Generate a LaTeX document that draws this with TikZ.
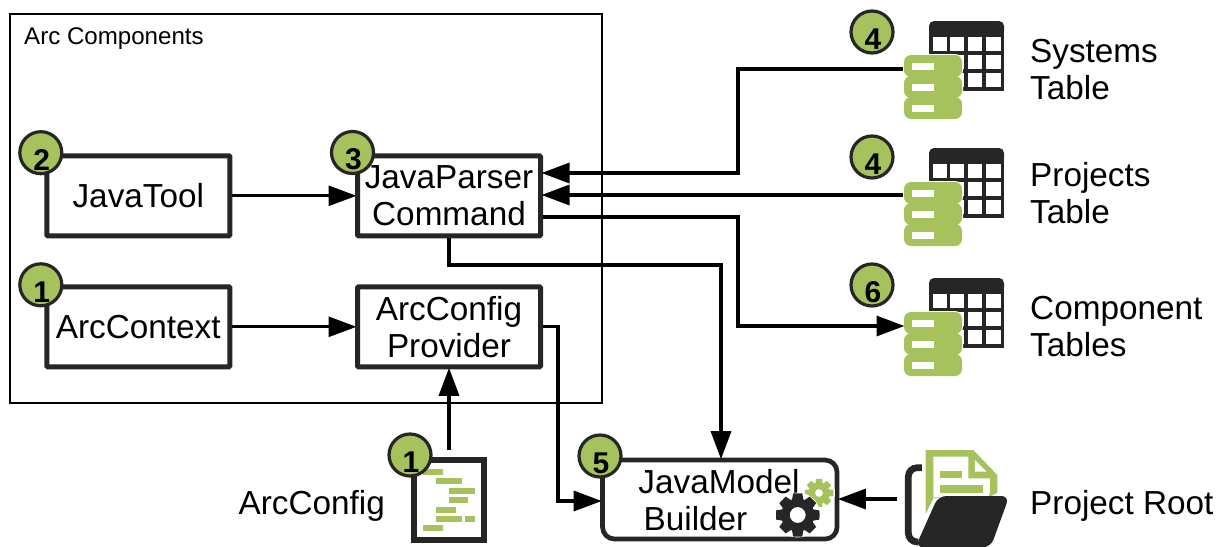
\documentclass[tikz,border=0pt]{standalone}
\usepackage{fontspec}
\setmainfont{Liberation Sans}
\usetikzlibrary{arrows.meta}
\definecolor{leaf}{HTML}{A5C25C}
\definecolor{ink}{HTML}{262626}
\newcommand{\pxfont}[1]{\fontsize{#1}{37}\selectfont}
\tikzset{
  x=1pt,y=-1pt,
  box/.style={draw=ink,line width=5pt,rounded corners=1pt,minimum width=183pt,minimum height=80pt,inner sep=0pt,font=\pxfont{33.3},align=center,anchor=north west,text=black},
  label/.style={font=\pxfont{33.3},align=left,inner sep=0pt,text=black},
  badge/.style={circle,draw=ink,fill=leaf,line width=3.2pt,minimum size=42pt,inner sep=0pt},
  badgenum/.style={font=\pxfont{30}\bfseries,inner sep=0pt,text=black},
  link/.style={draw=black,line width=3.3pt},
  arrowlink/.style={link,shorten >=-1.5pt,-{Triangle[length=28pt,width=20pt]}},
  thinlink/.style={arrowlink,line width=2.7pt},
  iconspot/.style={inner sep=0pt,minimum width=58pt,minimum height=63pt},
}
\newcommand{\tableicon}[2]{%
\begin{scope}[shift={(#1,#2)}]
  \fill[ink,rounded corners=5pt] (0,0) rectangle (75,14);
  \fill[ink] (0,8) rectangle (75,16);
  \draw[ink,line width=3.5pt] (2,16) -- (2,70) (19.5,16) -- (19.5,70) (37,16) -- (37,70) (55,16) -- (55,70) (73.5,16) -- (73.5,70)
    (2,32) -- (73.5,32) (2,50) -- (73.5,50) (2,68) -- (73.5,68);
\end{scope}}
\newcommand{\dbicon}[2]{%
\begin{scope}[shift={(#1,#2)}]
  \foreach \t in {42,21,0}{
    \fill[white,rounded corners=8pt] (-1,\t-1) rectangle (59,\t+23);
  }
  \foreach \t in {42,21,0}{
    \fill[leaf,rounded corners=7pt] (0,\t) rectangle (58,\t+22);
  }
  \foreach \t in {8,29,50}{
    \fill[white] (8,\t) rectangle (30,\t+6.5);
  }
\end{scope}}
\newcommand{\gearicon}[7]{%
\fill[#7,even odd rule,shift={(#1,#2)}]
  (0:#3)
  foreach \k in {1,...,#6}{
    -- ({(\k-1)*360/#6+12}:#3) -- ({(\k-1)*360/#6+20}:#4) -- ({\k*360/#6-20}:#4) -- ({\k*360/#6-12}:#3)
  } -- cycle
  (#5,0) arc[start angle=0,end angle=360,radius=#5];}
\begin{document}
\begin{tikzpicture}
\useasboundingbox (0,0) rectangle (1220,546);
\fill[white] (0,0) rectangle (1220,546);

% outer frame
\node[draw=black,line width=2pt,minimum width=592.3pt,minimum height=388.7pt,inner sep=0pt,anchor=north west] (frame) at (9,13) {};
\node[font=\pxfont{24.1},inner sep=0pt,anchor=west,text=black] (frametitle) at (24,38.5) {Arc Components};

% boxes
\node[box] (javatool) at (44.3,153.3) {JavaTool};
\node[box] (jparser) at (355,153.3) {\rule{0pt}{2pt}JavaParser\\[0pt]Command};
\node[box] (arccontext) at (44.3,284.3) {ArcContext};
\node[box] (provider) at (355,284.3) {ArcConfig\\[0pt]Provider};
\node[draw=ink,line width=4.7pt,rounded corners=12pt,minimum width=234.5pt,minimum height=79pt,inner sep=0pt,anchor=north west] (builder) at (600.2,457.7) {};
\node[label,anchor=base] (builderA) at (719,493.7) {JavaModel};
\node[label,anchor=base] (builderB) at (695.5,530) {Builder};

% icon anchor nodes
\node[iconspot,anchor=north west] (systemsdb) at (903,55) {};
\node[iconspot,anchor=north west] (projectsdb) at (903,182) {};
\node[iconspot,anchor=north west] (componentdb) at (903,312) {};
\node[inner sep=0pt,minimum width=76pt,minimum height=86pt,anchor=north west] (configdoc) at (411,457) {};
\node[inner sep=0pt,minimum width=104pt,minimum height=97pt,anchor=north west] (folder) at (904,449) {};

% icons
\tableicon{929}{21}\dbicon{904}{55}
\tableicon{929}{148}\dbicon{904}{182}
\tableicon{929}{278}\dbicon{904}{312}

% config document
\begin{scope}[shift={(411,457)}]
  \draw[ink,line width=6pt] (3,3) rectangle (73,83);
  \fill[leaf] (12,12) rectangle (32,18);
  \fill[leaf] (25,21) rectangle (51,27);
  \fill[leaf] (38,31) rectangle (64,37);
  \fill[leaf] (38,40) rectangle (57,46);
  \fill[leaf] (25,50) rectangle (45,56);
  \fill[leaf] (25,59) rectangle (51,65);
  \fill[leaf] (54,59) rectangle (64,65);
  \fill[leaf] (12,68) rectangle (32,74);
\end{scope}

% folder
\begin{scope}[shift={(770,440)},x=0.3333pt,y=-0.3333pt]
  \fill[leaf] (467,30) -- (610,30) -- (682,105) -- (682,158) -- (660,170) -- (490,175) -- (467,222) -- cycle;
  \fill[white] (490,50) -- (595,50) -- (595,115) -- (660,115) -- (660,158) -- (655,172) -- (492,172) -- (490,175) -- cycle;
  \fill[white] (615,60) -- (650,95) -- (615,95) -- cycle;
  \fill[leaf] (510,93) rectangle (575,115);
  \fill[leaf] (510,135) rectangle (640,158);
  \draw[ink,line width=6.7pt,rounded corners=9pt] (456,83) -- (415,83) -- (415,306) -- (445,306);
  \fill[ink,rounded corners=8pt] (505,168) -- (718,168) -- (662,322) -- (436,322) -- cycle;
\end{scope}

% gears
\fill[white] (819,493) circle (16);
\gearicon{819}{493}{14.5}{10.5}{4}{8}{leaf}
\fill[white] (797.7,515) circle (22.5);
\gearicon{797.7}{515}{22}{16.5}{8}{8}{ink}

% connectors
\coordinate (sysin) at (jparser.east |- 0,173);
\coordinate (projin) at (jparser.east |- 0,195);
\coordinate (compout) at (jparser.east |- 0,217);
\draw[thinlink] (javatool.east) -- (jparser.west);
\draw[thinlink] (arccontext.east) -- (provider.west);
\draw[arrowlink] (systemsdb.west |- 0,69) -- (738,69) -- (738,173) -- (sysin);
\draw[arrowlink] (projectsdb.west |- 0,195) -- (projin);
\draw[arrowlink] (compout) -- (738,217) -- (738,326) -- (componentdb.west |- 0,326);
\draw[arrowlink] (jparser.south) -- (jparser.south |- 0,265) -- (721,265) -- (721,457.7);
\draw[arrowlink] (provider.east) -- (558,326.8) -- (558,501) -- (builder.west |- 0,501);
\draw[arrowlink] (provider.south |- 0,450) -- (provider.south);
\draw[arrowlink] (897,499) -- (builder.east |- 0,499);

% labels
\node[label,anchor=west] (systemslabel) at (1030,70) {Systems\\[0pt]Table};
\node[label,anchor=west] (projectslabel) at (1030,193) {Projects\\[0pt]Table};
\node[label,anchor=west] (componentlabel) at (1030,327) {Component\\[0pt]Tables};
\node[label,anchor=east] (arcconfiglabel) at (385,506) {ArcConfig};
\node[label,anchor=west] (rootlabel) at (1030,506) {Project Root};

% badges
\foreach \nm/\cx/\cy/\num in {a/40.8/152.7/2,b/352.5/152.5/3,c/40.8/284.8/1,d/410/455/1,e/600/456/5,f/872/32/4,g/872/157/4,h/872/285/6}{
  \node[badge] (badge\nm) at (\cx,\cy) {};
  \node[badgenum] (num\nm) at (\cx+1,\cy+7) {\num};
}
\end{tikzpicture}
\end{document}
